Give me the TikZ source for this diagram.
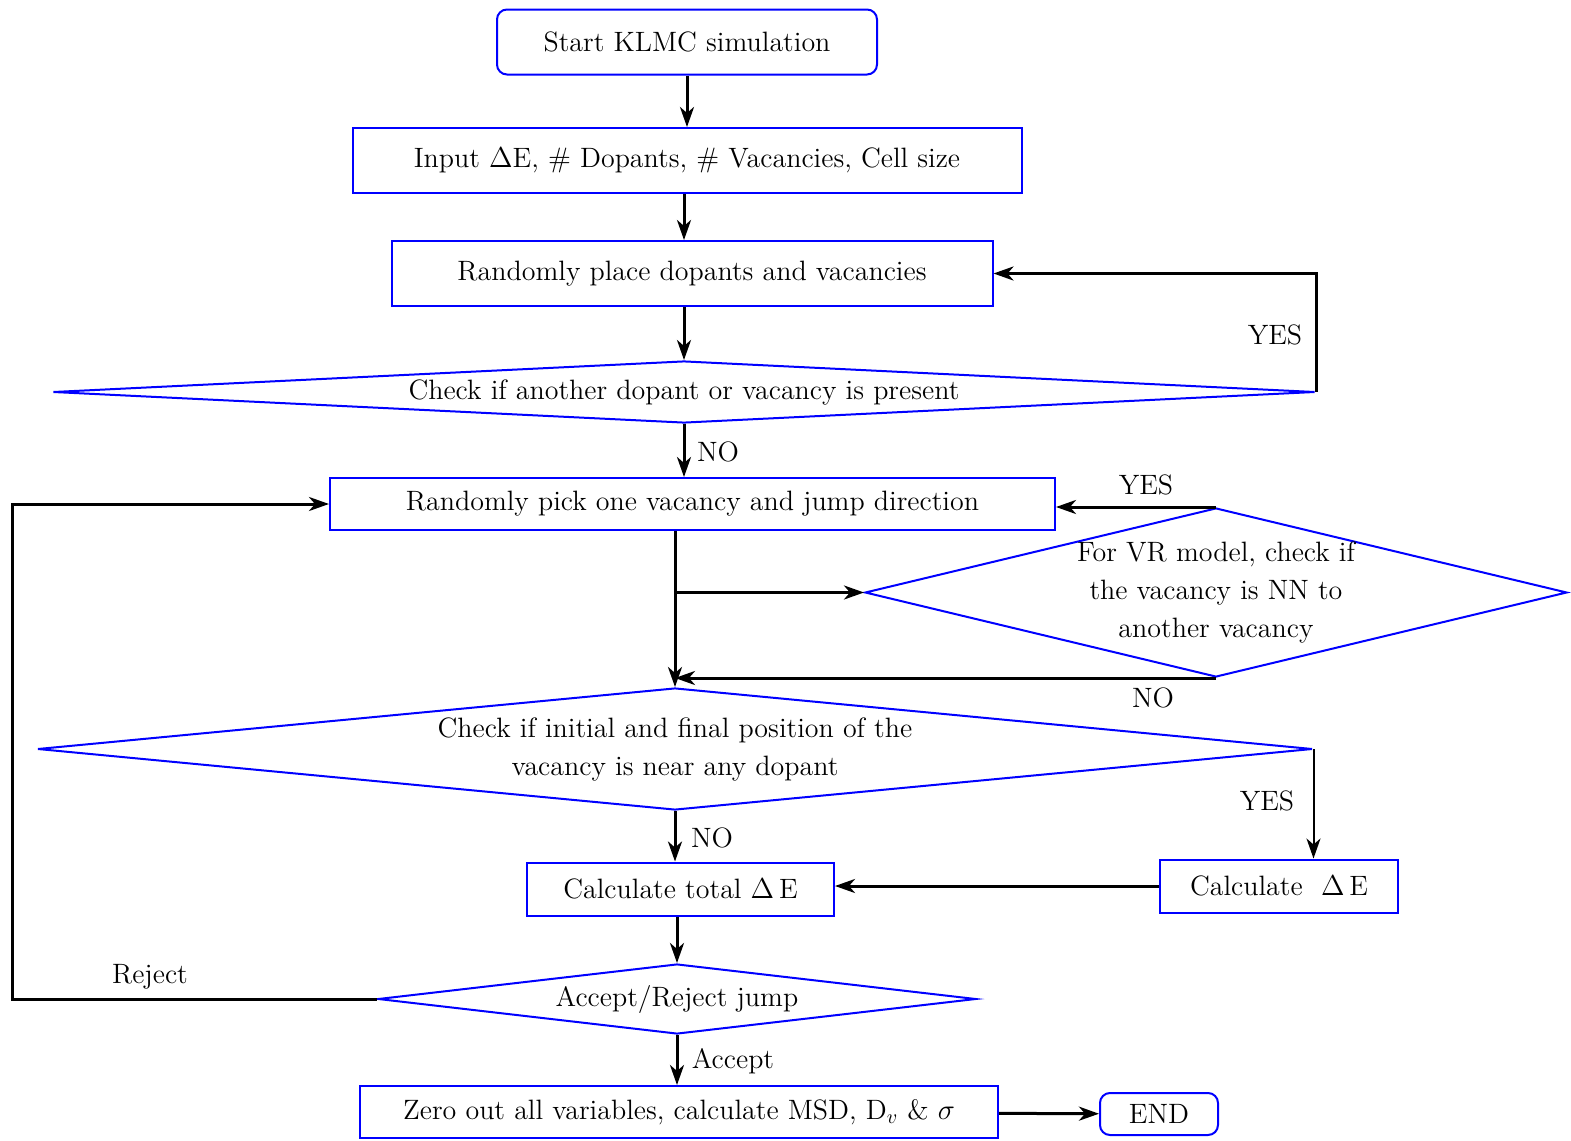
\documentclass[tikz,border=0pt]{standalone}
\usetikzlibrary{shapes.geometric,arrows.meta}
\begin{document}
\begin{tikzpicture}[x=0.5pt,y=-0.5pt,
  font=\fontsize{14}{19}\selectfont,
  box/.style={rectangle,draw=blue,line width=1pt,inner sep=0pt},
  rbox/.style={box,rounded corners=5pt},
  dec/.style={diamond,draw=blue,line width=1pt,inner sep=0pt,align=center},
  flow/.style={line width=1.5pt,-{Stealth[length=10pt,width=7pt,inset=3pt]}}]

\useasboundingbox (0,0) rectangle (1571,1141);

\draw (687,42) node(START)[rbox,minimum width=190pt,minimum height=32.5pt]{Start KLMC simulation};
\draw (687,160.5) node(INPUT)[box,minimum width=334.5pt,minimum height=32.5pt]{Input $\Delta$E, \# Dopants, \# Vacancies, Cell size};
\draw (692,273.5) node(PLACE)[box,minimum width=300.5pt,minimum height=32.5pt]{Randomly place dopants and vacancies};
\draw (684,392) node(CHKA)[dec,aspect=20.35,minimum width=631pt,minimum height=31pt]{Check if another dopant or vacancy is present};
\draw (692.5,504) node(PICK)[box,minimum width=362.5pt,minimum height=26pt]{Randomly pick one vacancy and jump direction};
\draw (1216,592.5) node(VR)[dec,aspect=4.15,minimum width=351pt,minimum height=84.5pt]{For VR model, check if\\ the vacancy is NN to\\ another vacancy};
\draw (675,749) node(CHKB)[dec,aspect=10.45,minimum width=637.5pt,minimum height=61pt]{Check if initial and final position of the\\ vacancy is near any dopant};
\draw (1279,886) node(CALC)[box,minimum width=119pt,minimum height=26.5pt]{Calculate \ $\Delta\,$E};
\draw (680.5,889) node(TOTAL)[box,minimum width=153.5pt,minimum height=26.5pt]{Calculate total $\Delta\,$E};
\draw (677,999) node(ACC)[dec,aspect=8.54,minimum width=299pt,minimum height=35pt]{Accept/Reject jump};
\draw (679,1112) node(ZERO)[box,minimum width=319pt,minimum height=26pt]{Zero out all variables, calculate MSD, D$_v$ \& $\sigma$};
\draw (1159,1114) node(END)[rbox,minimum width=59pt,minimum height=21pt]{END};

\draw (1275,335) node(YA){YES};
\draw (718,452) node(NA){NO};
\draw (1146,485) node(YB){YES};
\draw (1153,698) node(NB){NO};
\draw (1267,801) node(YC){YES};
\draw (712,838) node(NC){NO};
\draw (150,977) node(REJ){Reject};
\draw (733,1061) node(ACPT){Accept};

\coordinate (BR) at (CHKB.north |- VR.west);
\coordinate (RJ) at (12,999);

\draw[flow] (START) -- (INPUT);
\draw[flow] (INPUT.south -| CHKA.north) -- (PLACE.north -| CHKA.north);
\draw[flow] (PLACE.south -| CHKA.north) -- (CHKA.north);
\draw[flow] (CHKA.east) |- (PLACE.east);
\draw[flow] (CHKA.south) -- (CHKA.south |- PICK.north);
\draw[flow] (PICK.south -| CHKB.north) -- (CHKB.north);
\draw[flow] (BR) -- (VR.west);
\draw[flow] (VR.north) -- (VR.north -| PICK.east);
\draw[flow] (VR.south) -- (VR.south -| CHKB.north);
\draw[flow,line width=1pt] (CHKB.east) -- (CHKB.east |- CALC.north);
\draw[flow] (CHKB.south) -- (CHKB.south |- TOTAL.north);
\draw[flow] (CALC.west) -- (CALC.west -| TOTAL.east);
\draw[flow] (TOTAL.south -| ACC.north) -- (ACC.north);
\draw[flow] (ACC.west) -- (RJ) |- (PICK.west);
\draw[flow] (ACC.south) -- (ACC.south |- ZERO.north);
\draw[flow] (ZERO) -- (END);

\end{tikzpicture}
\end{document}
